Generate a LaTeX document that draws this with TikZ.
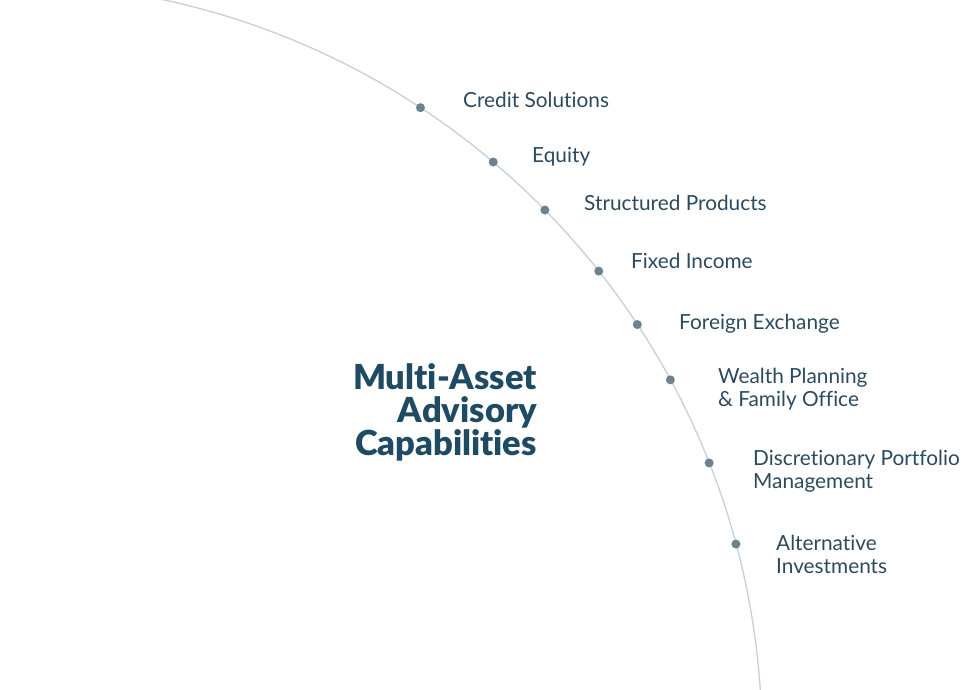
\documentclass[tikz,border=0pt]{standalone}
\usepackage{fontspec}
\setmainfont{Lato}[Ligatures=CommonOff]
\newfontfamily\titlefont{Lato Black}[Ligatures=CommonOff]
\definecolor{txt}{HTML}{2C4A5E}
\definecolor{ttl}{HTML}{1F4A63}
\definecolor{dotc}{HTML}{6B8290}
\definecolor{arcc}{HTML}{C5D0D7}
\begin{document}
\begin{tikzpicture}[x=1pt,y=1pt,
  dotn/.style={circle,fill=dotc,inner sep=0pt,minimum size=9pt},
  lbl/.style={anchor=base west,inner sep=0pt,text=txt,font=\fontsize{20.8}{23.5}\selectfont,align=left},
  ttln/.style={anchor=base east,inner sep=0pt,text=ttl,font=\titlefont\fontsize{34.5}{33}\selectfont,align=right}]
\useasboundingbox (0,0) rectangle (980,690);
\coordinate (C) at (4,-51);
\begin{scope}
\clip (0,0) rectangle (980,690);
\draw[arcc,line width=1.3pt] (C) circle[radius=758pt];
\end{scope}
\node[dotn] (d1) at ([shift={(56.67:758pt)}]C) {};
\node[dotn] (d2) at ([shift={(49.80:758pt)}]C) {};
\node[dotn] (d3) at ([shift={(44.47:758pt)}]C) {};
\node[dotn] (d4) at ([shift={(38.31:758pt)}]C) {};
\node[dotn] (d5) at ([shift={(33.33:758pt)}]C) {};
\node[dotn] (d6) at ([shift={(28.46:758pt)}]C) {};
\node[dotn] (d7) at ([shift={(21.52:758pt)}]C) {};
\node[dotn] (d8) at ([shift={(15.06:758pt)}]C) {};
\node[lbl] (l1) at (463,582) {Credit Solutions};
\node[lbl] (l2) at (532,527) {Equity};
\node[lbl] (l3) at (584,479) {Structured Products};
\node[lbl] (l4) at (631,421) {Fixed Income};
\node[lbl] (l5) at (679,360) {Foreign Exchange};
\node[lbl] (l6) at (718,283) {Wealth Planning\\\& Family Office};
\node[lbl] (l7) at (753,201) {Discretionary Portfolio\\Management};
\node[lbl] (l8) at (776,116) {Alternative\\Investments};
\node[ttln] (t) at (537,234) {Multi-Asset\\Advisory\\Capabilities};
\end{tikzpicture}
\end{document}
